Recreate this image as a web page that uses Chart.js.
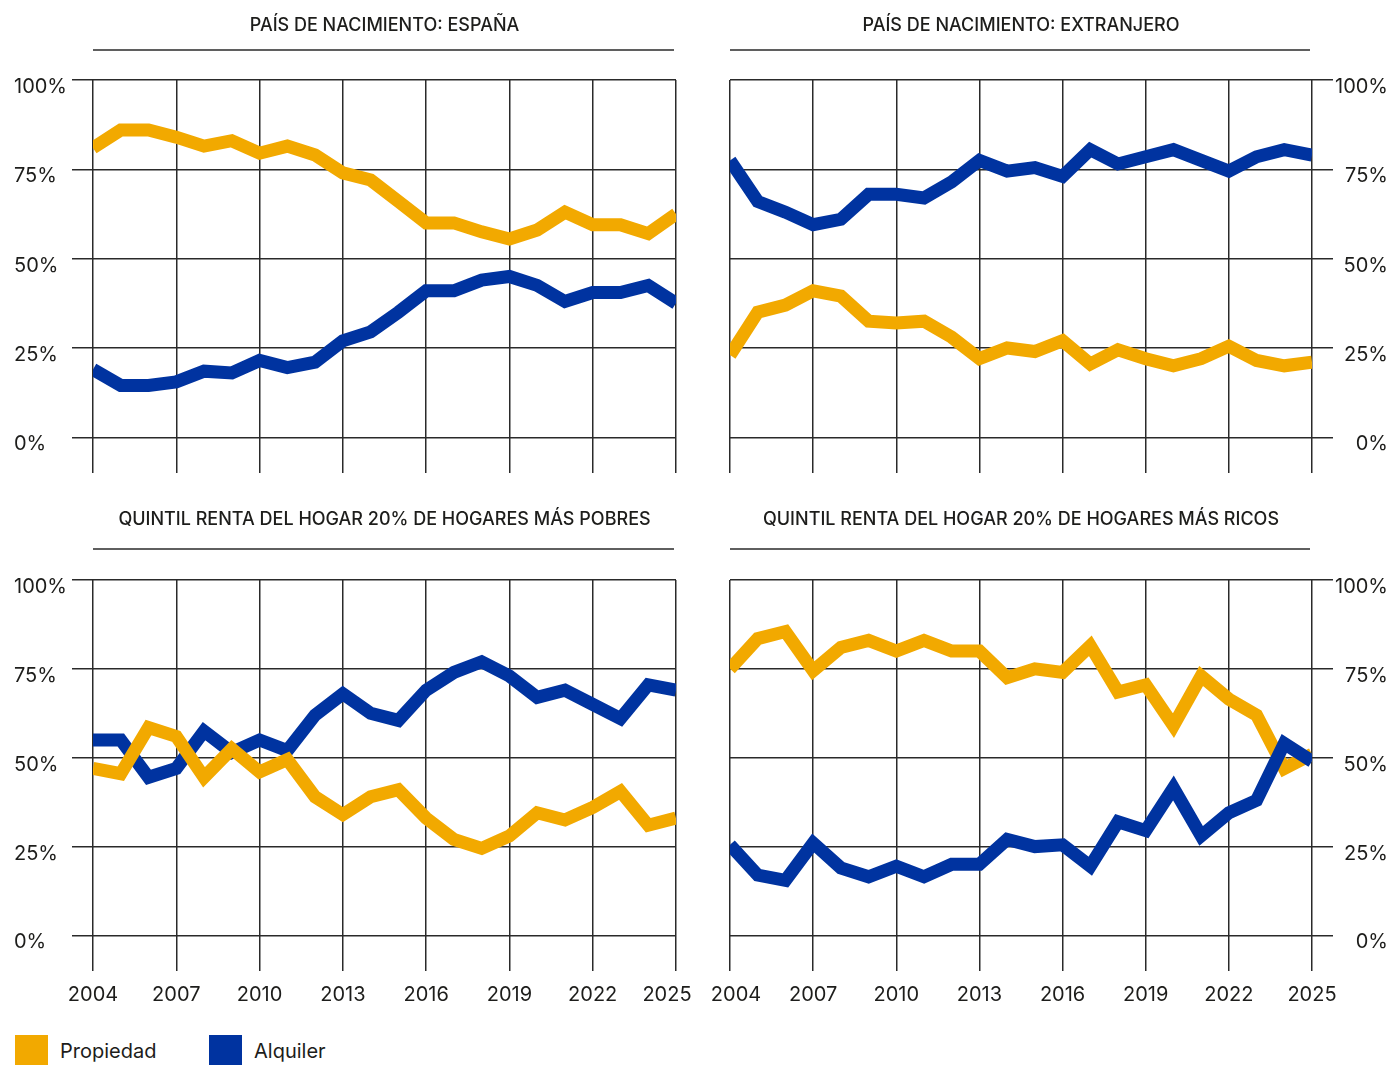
<!DOCTYPE html>
<html lang="es">
<head>
<meta charset="utf-8">
<title>Régimen de tenencia de la vivienda</title>
<script src="https://cdn.jsdelivr.net/npm/chart.js@4.4.1/dist/chart.umd.min.js"></script>
<style>
  html, body { margin: 0; padding: 0; background: #fff; }
  body { width: 1395px; height: 1065px; position: relative; overflow: hidden;
         font-family: Inter, "Noto Sans", sans-serif; color: #1d1d1b; }
  .panel { position: absolute; }
  .legend-box { position: absolute; top: 1035px; width: 33px; height: 30px; }
  .legend-text { position: absolute; top: 1038px; font-size: 20px; line-height: 26px; }
</style>
</head>
<body>

<div class="panel" style="left:0;top:0;width:700px;height:490px"><canvas id="espana"></canvas></div>
<div class="panel" style="left:700px;top:0;width:695px;height:490px"><canvas id="extranjero"></canvas></div>
<div class="panel" style="left:0;top:490px;width:700px;height:520px"><canvas id="pobres"></canvas></div>
<div class="panel" style="left:700px;top:490px;width:695px;height:520px"><canvas id="ricos"></canvas></div>

<div class="legend-box" style="left:15px;background:#F2A900"></div>
<div class="legend-text" style="left:60px">Propiedad</div>
<div class="legend-box" style="left:209px;background:#0033A0"></div>
<div class="legend-text" style="left:254px">Alquiler</div>

<script>
const years = [2004, 2005, 2006, 2007, 2008, 2009, 2010, 2011, 2012, 2013, 2014,
               2015, 2016, 2017, 2018, 2019, 2020, 2021, 2022, 2023, 2024, 2025];
const yearTicks = [2004, 2007, 2010, 2013, 2016, 2019, 2022, 2025];
const pctTicks = [0, 25, 50, 75, 100];

// % de hogares en propiedad / alquiler
const espanaPropiedad = [81, 86, 86, 84, 81.5, 83, 79.5, 81.5, 79, 74, 72, 66, 60, 60, 57.5, 55.5, 58, 63, 59.5, 59.5, 57, 62.5];
const espanaAlquiler = [19, 14.5, 14.5, 15.5, 18.5, 18, 21.5, 19.5, 21, 27, 29.5, 35, 41, 41, 44, 45, 42.5, 38, 40.5, 40.5, 42.5, 37.5];
const extranjeroPropiedad = [23, 35, 37, 41, 39.5, 32.5, 32, 32.5, 28, 22, 25, 24, 27, 20.5, 24.5, 22, 20, 22, 25.5, 21.5, 20, 21];
const extranjeroAlquiler = [77.5, 66, 63, 59.5, 61, 68, 68, 67, 71.5, 77.5, 74.5, 75.5, 73, 80.5, 76.5, 78.5, 80.5, 77.5, 74.5, 78.5, 80.5, 79];
const pobresPropiedad = [47, 45.5, 58.5, 56, 44.5, 52.5, 46, 49.5, 39, 34, 39, 41, 33, 27, 24.5, 28, 34.5, 32.5, 36, 40.5, 31, 33];
const pobresAlquiler = [55, 55, 44.5, 47, 57.5, 51.5, 55, 52, 62, 68, 62.5, 60.5, 69, 74, 77, 73, 67, 69, 65, 61, 70.5, 69];
const ricosPropiedad = [75, 83.5, 85.5, 74.5, 81, 83, 80, 83, 80, 80, 72.5, 75, 74, 81.5, 68.5, 70.5, 59, 73, 66.5, 62, 47, 51];
const ricosAlquiler = [25.5, 17, 15.5, 26, 19, 16.5, 19.5, 16.5, 20, 20, 27, 25, 25.5, 19.5, 32, 29.5, 41.5, 28, 34.5, 38, 54, 49];

const ORANGE = '#F2A900';
const BLUE = '#0033A0';
const GRID = '#2a2a2a';
const TEXT = '#1d1d1b';
const FONT = 'Inter, "Noto Sans", sans-serif';

// titulo del panel con la raya debajo
const panelTitle = {
    id: 'panelTitle',
    afterDraw(chart, args, opts) {
        const { ctx, chartArea } = chart;
        const cx = (chartArea.left + chartArea.right) / 2;
        ctx.save();
        ctx.font = '500 18px ' + FONT;
        ctx.fillStyle = TEXT;
        ctx.textAlign = 'center';
        ctx.textBaseline = 'middle';
        ctx.fillText(opts.text, cx, chartArea.top - opts.titleGap);
        ctx.strokeStyle = GRID;
        ctx.lineWidth = 1.5;
        ctx.beginPath();
        ctx.moveTo(chartArea.left, chartArea.top - opts.lineGap);
        ctx.lineTo(chartArea.right - 2, chartArea.top - opts.lineGap);
        ctx.stroke();
        ctx.restore();
    }
};

// separa un poco los años de los extremos entre paneles
const edgeYears = {
    id: 'edgeYears',
    beforeDraw(chart, args, opts) {
        const x = chart.scales.x;
        if (!x.options.ticks.display) return;
        const items = x.getLabelItems(chart.chartArea);
        if (!items.length || items._shifted) return;
        items[0].options.translation[0] += opts.first || 0;
        items[items.length - 1].options.translation[0] += opts.last || 0;
        items._shifted = true;
    }
};

function toPoints(values) {
    return years.map((y, i) => ({ x: y, y: values[i] }));
}

function noAutoPadding(s) {
    s.paddingLeft = 0;
    s.paddingRight = 0;
    s.paddingTop = 0;
    s.paddingBottom = 0;
}

function makePanel(id, title, propiedad, alquiler, side, showYears, padding, titleGap, lineGap, shift, blueOnTop) {
    new Chart(document.getElementById(id), {
        type: 'line',
        data: {
            datasets: [
                { label: 'Propiedad', data: toPoints(propiedad), borderColor: ORANGE, order: blueOnTop ? 1 : 0 },
                { label: 'Alquiler', data: toPoints(alquiler), borderColor: BLUE, order: blueOnTop ? 0 : 1 }
            ]
        },
        options: {
            responsive: true,
            maintainAspectRatio: false,
            animation: false,
            events: [],
            layout: { padding: padding },
            elements: {
                line: { borderWidth: 13, tension: 0, fill: false },
                point: { radius: 0, hoverRadius: 0 }
            },
            scales: {
                x: {
                    type: 'linear',
                    min: 2004,
                    max: 2025,
                    afterBuildTicks: s => { s.ticks = yearTicks.map(v => ({ value: v })); },
                    afterFit: s => { s.height = showYears ? 39 : 0; noAutoPadding(s); },
                    grid: { color: GRID, lineWidth: 1.5, drawTicks: false },
                    border: { display: false },
                    ticks: {
                        display: showYears,
                        padding: 12,
                        color: TEXT,
                        font: { family: FONT, size: 20 },
                        maxRotation: 0,
                        callback: v => String(v)
                    }
                },
                y: {
                    position: side,
                    min: -10,
                    max: 100,
                    afterBuildTicks: s => { s.ticks = pctTicks.map(v => ({ value: v })); },
                    afterFit: s => { s.width = side === 'left' ? 79 : 76; noAutoPadding(s); },
                    grid: { color: GRID, lineWidth: 1.5, tickLength: 21 },
                    border: { display: false },
                    ticks: {
                        crossAlign: 'far',
                        labelOffset: 7,
                        padding: 0,
                        color: TEXT,
                        font: { family: FONT, size: 20 },
                        callback: v => v + '%'
                    }
                }
            },
            plugins: {
                legend: { display: false },
                tooltip: { enabled: false },
                panelTitle: { text: title, titleGap: titleGap, lineGap: lineGap },
                edgeYears: shift
            }
        },
        plugins: [panelTitle, edgeYears]
    });
}

makePanel('espana', 'PAÍS DE NACIMIENTO: ESPAÑA', espanaPropiedad, espanaAlquiler,
    'left', false, { left: 14, right: 24, top: 80, bottom: 17 }, 54, 30, {}, false);
makePanel('extranjero', 'PAÍS DE NACIMIENTO: EXTRANJERO', extranjeroPropiedad, extranjeroAlquiler,
    'right', false, { left: 30, right: 7, top: 80, bottom: 17 }, 54, 30, {}, false);
makePanel('pobres', 'QUINTIL RENTA DEL HOGAR 20% DE HOGARES MÁS POBRES', pobresPropiedad, pobresAlquiler,
    'left', true, { left: 14, right: 24, top: 90, bottom: 0 }, 60, 31, { first: 0, last: -9 }, false);
makePanel('ricos', 'QUINTIL RENTA DEL HOGAR 20% DE HOGARES MÁS RICOS', ricosPropiedad, ricosAlquiler,
    'right', true, { left: 30, right: 7, top: 90, bottom: 0 }, 60, 31, { first: 6, last: 0 }, true);
</script>
</body>
</html>
